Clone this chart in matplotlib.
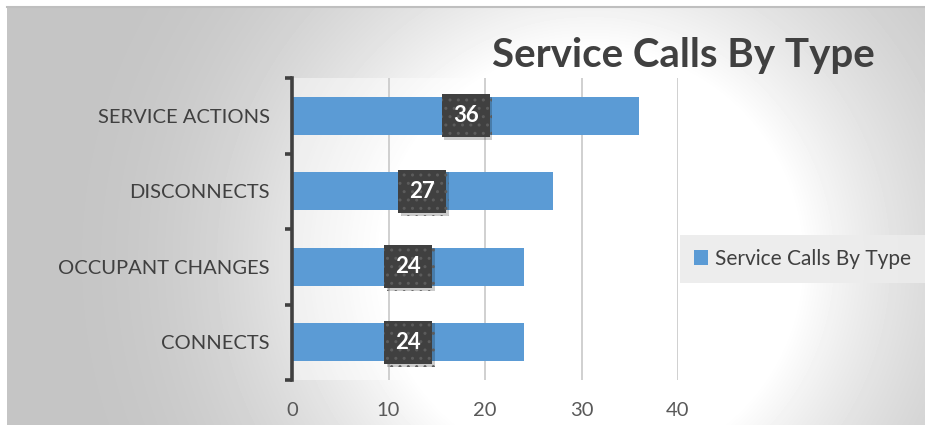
import numpy as np
import matplotlib

matplotlib.use("Agg")
import matplotlib.pyplot as plt  # noqa: E402
import matplotlib.patheffects as pe  # noqa: E402
from matplotlib.patches import Patch  # noqa: E402

categories = ["SERVICE ACTIONS", "DISCONNECTS", "OCCUPANT CHANGES", "CONNECTS"]
calls = [36, 27, 24, 24]
x_ticks = [0, 10, 20, 30, 40]
title = "Service Calls By Type"
series_name = "Service Calls By Type"

BLUE = "#5b9bd5"
DARK = "#404040"
TEXT = "#404040"

plt.rcParams["font.family"] = ["Lato", "DejaVu Sans"]

W, H = 925, 425
fig = plt.figure(figsize=(W / 100, H / 100), dpi=100)
fig.patch.set_facecolor("white")

# radial grey-to-white background of the chart area
bg = fig.add_axes([7 / W, 0, 1 - 7 / W, 1 - 7 / H], zorder=-10)
yy, xx = np.mgrid[7:H, 7:W]
d = np.hypot(xx - 590, yy - 260)
t = np.clip((d - 210) / 340, 0, 1)
t = t * (2 - t)
shade = 1 - 0.23 * t
bg.imshow(shade, cmap="gray", vmin=0, vmax=1, aspect="auto",
          extent=(0, 1, 0, 1), interpolation="bilinear")
bg.set_xlim(0, 1)
bg.set_ylim(0, 1)
bg.axis("off")
bg.plot([0, 1], [1, 1], color="#bfbfbf", lw=1.5, transform=bg.transAxes, clip_on=False)

ax = fig.add_axes([292 / W, 1 - 380 / H, (678 - 292) / W, (380 - 78) / H])
ax.set_facecolor((1, 1, 1, 0.45))

y = np.arange(len(categories))
ax.barh(y, calls, height=0.5, color=BLUE, zorder=3)

ax.set_xlim(0, 40)
ax.set_ylim(len(categories) - 0.5, -0.5)
ax.set_xticks(x_ticks)
ax.set_xticklabels([str(v) for v in x_ticks])
ax.set_yticks(y)
ax.set_yticklabels(categories)
ax.set_yticks(np.arange(len(categories) + 1) - 0.5, minor=True)

ax.grid(axis="x", color="#c8c8c8", lw=1.2, zorder=1)
for s in ("top", "right", "bottom"):
    ax.spines[s].set_visible(False)
ax.spines["left"].set_color(DARK)
ax.spines["left"].set_linewidth(2.6)
ax.spines["left"].set_zorder(5)

ax.tick_params(axis="x", length=0, pad=16, labelsize=14.5, labelcolor="#595959")
ax.tick_params(axis="y", which="major", length=0, pad=16, labelsize=14.5, labelcolor=TEXT)
ax.tick_params(axis="y", which="minor", length=5, width=2.6, color=DARK, direction="out")

# data labels: dark dotted boxes with a soft shadow
for i, v in enumerate(calls):
    lbl = ax.text(v / 2, i, str(v), ha="center", va="center", fontsize=16,
                  fontweight="bold", color="white", zorder=7,
                  bbox=dict(boxstyle="square,pad=0.5", fc=DARK, ec="#5c5c5c",
                            lw=0, hatch=".."))
    lbl.get_bbox_patch().set_path_effects(
        [pe.SimplePatchShadow(offset=(2, -2), shadow_rgbFace="black", alpha=0.2),
         pe.Normal()])

fig.text(683 / W, 1 - 67 / H, title, ha="center", va="baseline",
         fontsize=29, fontweight="bold", color=TEXT)

leg = fig.legend(handles=[Patch(facecolor=BLUE, edgecolor="none", label=series_name)],
                 loc="center left", bbox_to_anchor=(680 / W, 1 - 259 / H),
                 fontsize=15, frameon=True, fancybox=False,
                 handlelength=0.7, handleheight=0.7, handletextpad=0.35,
                 borderpad=0.65, borderaxespad=0, labelcolor=TEXT)
leg.get_frame().set_facecolor("#ececec")
leg.get_frame().set_edgecolor("none")
leg.get_frame().set_alpha(0.9)

fig.savefig("out.png", dpi=100)
